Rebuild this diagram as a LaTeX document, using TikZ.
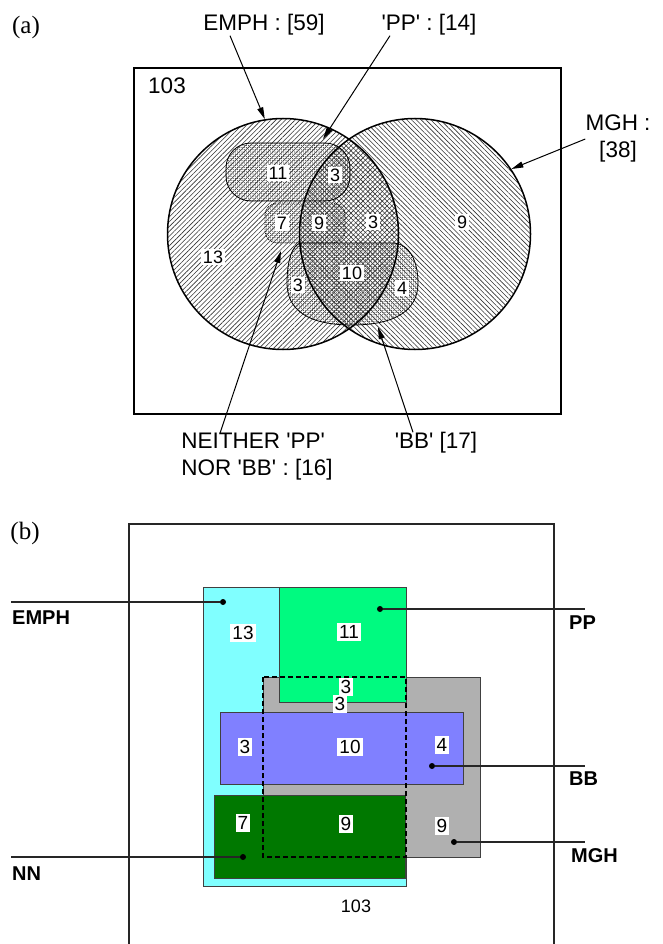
\documentclass[tikz,border=0pt]{standalone}
\usepackage{fontspec}
\setmainfont{Liberation Sans}
\newfontfamily\tnr{Liberation Serif}
\usetikzlibrary{patterns.meta,arrows.meta}
\newcommand\q{\textquotesingle}
\definecolor{cyanC}{RGB}{128,255,255}
\definecolor{greenC}{RGB}{0,250,128}
\definecolor{blueC}{RGB}{128,128,255}
\definecolor{grayC}{RGB}{176,176,176}
\definecolor{dgreenC}{RGB}{0,120,0}
\tikzset{
  panel/.style={font=\tnr\fontsize{25}{27}\selectfont, inner sep=0pt},
  lbl/.style={font=\fontsize{22.5}{27}\selectfont, align=center, inner sep=0pt},
  num/.style={fill=white, inner sep=1.8pt, font=\fontsize{18}{18}\selectfont},
  numb/.style={fill=white, inner sep=2.2pt, font=\fontsize{19}{19}\selectfont},
  arr/.style={line width=1pt, -{Triangle[length=12pt,width=6pt]}},
  ring/.style={circle, draw, line width=1.5pt, minimum size=231pt, inner sep=0pt},
  hatchL/.style={pattern={Lines[angle=45,distance=3.4pt,line width=0.6pt]}, pattern color=black!80},
  hatchR/.style={pattern={Lines[angle=-45,distance=3.4pt,line width=0.6pt]}, pattern color=black!80},
  dotsP/.style={pattern={Dots[distance=2.2pt,radius=0.6pt]}, pattern color=black!75},
  inner/.style={draw, line width=0.8pt},
  rectb/.style={draw=black!75, line width=0.9pt},
  dotn/.style={circle, fill=black, minimum size=6pt, inner sep=0pt},
  lead/.style={line width=1.2pt, draw=black!85},
  blbl/.style={font=\bfseries\fontsize{20}{22}\selectfont, inner sep=0pt, anchor=west}
}
\begin{document}
\begin{tikzpicture}[x=1pt,y=-1pt]
\useasboundingbox (0,0) rectangle (663,944);
% ================= panel (a) =================
\node[panel] (pa) at (26,27) {(a)};
\draw[line width=1.2pt] (134,68) rectangle (561,414);
\node[lbl] (n103a) at (167,86) {103};
% fills
\path[hatchL] (283,234) circle[radius=115];
\path[hatchR] (415,234) circle[radius=115];
\path[dotsP, inner] (302,243) -- (392,243) .. controls (410,243) and (418,262) .. (418,283)
   .. controls (418,310) and (396,325) .. (352,325)
   .. controls (308,325) and (287,310) .. (287,283)
   .. controls (287,262) and (292,243) .. (302,243) -- cycle;
\path[dotsP, inner, densely dotted] (265,203) [rounded corners=12pt] rectangle (345,243);
\path[dotsP, inner] (226,143) [rounded corners=25pt] rectangle (350,201);
% outlines
\node[ring] (emphC) at (283,234) {};
\node[ring] (mghC) at (415,234) {};
% numbers
\node[num] (a11) at (278,173) {11};
\node[num] (a3a) at (335,175) {3};
\node[num] (a7) at (282,223) {7};
\node[num] (a9a) at (319,223) {9};
\node[num] (a3b) at (373,222) {3};
\node[num] (a9b) at (462,222) {9};
\node[num] (a13) at (213,257) {13};
\node[num] (a10) at (352,273) {10};
\node[num] (a3c) at (298,285) {3};
\node[num] (a4) at (402,288) {4};
% labels and arrows
\node[lbl] (emphL) at (264,25) {EMPH : [59]};
\node[lbl] (ppL) at (429,25) {\q PP\q\ : [14]};
\node[lbl, align=center] (mghL) at (618,138) {MGH :\\{[38]}};
\node[lbl, align=left] (neiL) at (257,457) {NEITHER \q PP\q\\NOR \q BB\q\ : [16]};
\node[lbl] (bbL) at (436,443) {\q BB\q\ [17]};
\coordinate (ppTip) at (323,139);
\coordinate (neiTip) at (281,251);
\coordinate (bbTip) at (378,327);
\draw[arr] ([xshift=-34pt]emphL.south) -- (emphC.99);
\draw[arr] ([xshift=-39pt]ppL.south) -- (ppTip);
\draw[arr] ([yshift=-1pt]mghL.west) -- (mghC.34);
\draw[arr] ([xshift=-37pt]neiL.north) -- (neiTip);
\draw[arr] ([xshift=-23pt]bbL.north) -- (bbTip);
% ================= panel (b) =================
\node[panel] (pb) at (25,533) {(b)};
\draw[line width=1.1pt, draw=black!85] (129,950) -- (129,524) -- (554,524) -- (554,950);
\filldraw[rectb, fill=cyanC] (203,587) rectangle (406,886);
\filldraw[rectb, fill=grayC] (263,677) rectangle (480,857);
\filldraw[rectb, fill=greenC] (279,587) rectangle (406,702);
\filldraw[rectb, fill=blueC] (220,712) rectangle (463,784);
\filldraw[rectb, fill=dgreenC] (214,795) rectangle (405,878);
\draw[dashed, line width=1.1pt, dash pattern=on 5pt off 3pt] (263,677) rectangle (406,857);
% numbers
\node[numb] (b13) at (243,633) {13};
\node[numb] (b11) at (349,632) {11};
\node[numb] (b3a) at (346,687) {3};
\node[numb] (b3b) at (340,704) {3};
\node[numb] (b3c) at (245,747) {3};
\node[numb] (b10) at (350,747) {10};
\node[numb] (b4) at (442,745) {4};
\node[numb] (b7) at (243,823) {7};
\node[numb] (b9a) at (346,824) {9};
\node[numb] (b9b) at (442,826) {9};
\node[font=\fontsize{18}{18}\selectfont, inner sep=0pt] (b103) at (356,906) {103};
% leaders
\node[dotn] (eD) at (223,602) {};
\node[dotn] (pD) at (380,609) {};
\node[dotn] (bD) at (432,766) {};
\node[dotn] (mD) at (454,842) {};
\node[dotn] (nD) at (243,857) {};
\coordinate (eE) at (11,602);
\coordinate (pE) at (585,609);
\coordinate (bE) at (585,766);
\coordinate (mE) at (585,842);
\coordinate (nE) at (11,857);
\draw[lead] (eE) -- (eD);
\draw[lead] (pD) -- (pE);
\draw[lead] (bD) -- (bE);
\draw[lead] (mD) -- (mE);
\draw[lead] (nE) -- (nD);
\node[blbl] (eT) at (12,618) {EMPH};
\node[blbl] (pT) at (569,623) {PP};
\node[blbl] (bT) at (569,779) {BB};
\node[blbl] (mT) at (571,856) {MGH};
\node[blbl] (nT) at (12,874) {NN};
\end{tikzpicture}
\end{document}
